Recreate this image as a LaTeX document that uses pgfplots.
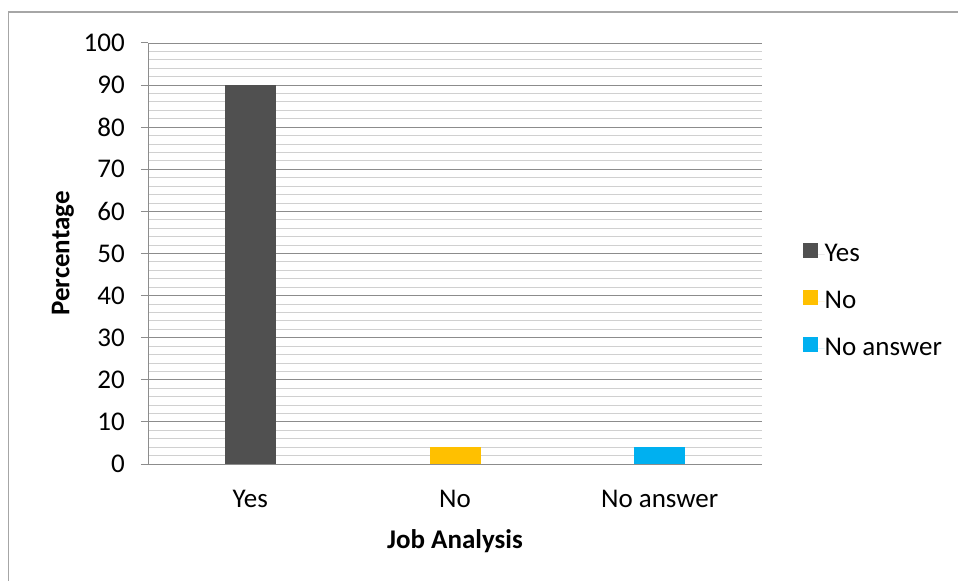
\documentclass[border=0pt]{standalone}
\usepackage{pgfplots}
\pgfplotsset{compat=1.18}
\usepackage{fontspec}
\setmainfont{Carlito}
\definecolor{cyes}{HTML}{505050}
\definecolor{cno}{HTML}{FFC000}
\definecolor{cna}{HTML}{00B0F0}
\definecolor{majgrid}{HTML}{8C8C8C}
\definecolor{mingrid}{HTML}{D0D0D0}
\definecolor{bordergray}{HTML}{A6A6A6}
\begin{document}
\begin{tikzpicture}[x=1pt,y=1pt]
\useasboundingbox (0,0) rectangle (958,581);
\draw[color=bordergray, line width=1.5pt] (8.5,0) -- (8.5,569) -- (958,569);
\begin{axis}[
  at={(148pt,117pt)}, anchor=south west,
  scale only axis, width=614pt, height=421pt,
  xmin=-0.5, xmax=2.5, ymin=0, ymax=100,
  ytick={0,10,...,100}, minor y tick num=4,
  xtick={0,1,2}, xticklabels={Yes,No,No answer},
  ymajorgrids, yminorgrids,
  major grid style={color=majgrid, line width=0.9pt},
  minor grid style={color=mingrid, line width=0.9pt},
  axis x line*=bottom, axis y line*=left,
  axis line style={draw=majgrid, line width=1pt},
  tick align=outside,
  major tick length=7pt, minor tick length=0pt,
  y tick style={draw=majgrid, line width=1pt},
  x tick style={draw=none},
  /pgf/number format/assume math mode=true,
  ticklabel style={font=\fontsize{27}{31}\selectfont, text=black},
  yticklabel style={inner sep=0pt, anchor=east, xshift=-16pt},
  xticklabel style={inner sep=0pt, anchor=base, yshift=-36pt},
  xlabel={\textbf{Job Analysis}},
  ylabel={\textbf{Percentage}},
  label style={font=\fontsize{27}{31}\selectfont},
  xlabel style={at={(axis description cs:0.5,0)}, anchor=center, yshift=-77pt},
  ylabel style={at={(axis description cs:0,0.5)}, anchor=center, yshift=85pt},
  ybar, bar width=51pt, bar shift=0pt,
  legend image code/.code={\path (0pt,0pt) -- (22pt,0pt); \fill[#1] (0pt,-3pt) rectangle (15pt,12pt);},
  legend style={at={(axis description cs:1.061,0.385)}, anchor=west, draw=none,
    font=\fontsize{27}{31}\selectfont, row sep=23pt,
    nodes={inner sep=0pt, text height=19pt, text depth=5pt}},
  legend cell align=left,
]
\addplot[fill=cyes, draw=none] coordinates {(0,90)};
\addplot[fill=cno, draw=none] coordinates {(1,4)};
\addplot[fill=cna, draw=none] coordinates {(2,4)};
\legend{Yes,No,No answer}
\end{axis}
\end{tikzpicture}
\end{document}
